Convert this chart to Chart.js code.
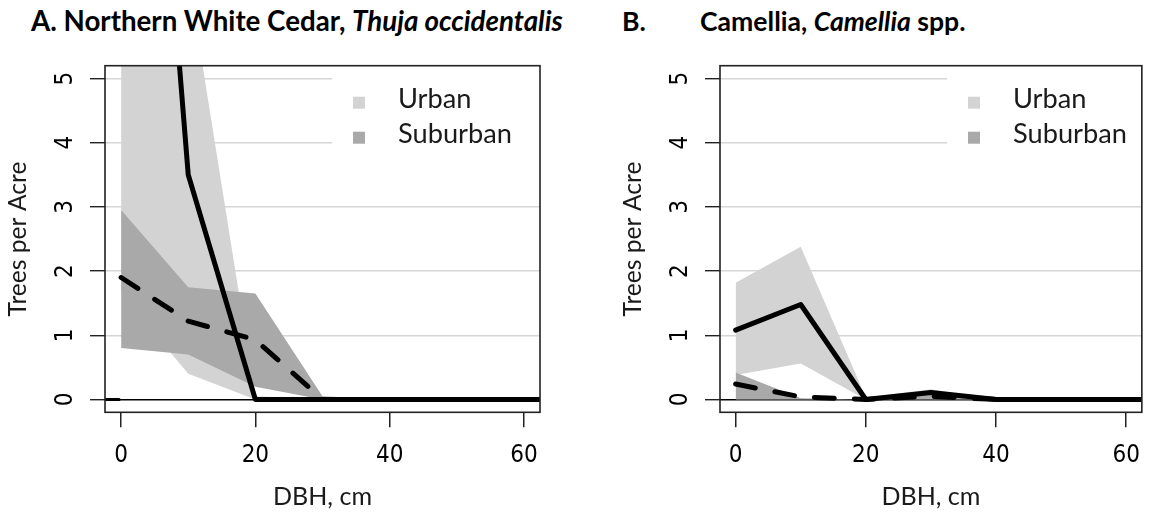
<!DOCTYPE html>
<html>
<head>
<meta charset="utf-8">
<title>Trees per acre by DBH class</title>
<script src="https://cdn.jsdelivr.net/npm/chart.js@4.4.1/dist/chart.umd.min.js"></script>
<style>
  html, body { margin: 0; padding: 0; background: #fff; }
  body { width: 1154px; height: 516px; position: relative; overflow: hidden; }
  .panel { position: absolute; top: 0; height: 516px; }
  #boxA { left: 0; width: 577px; }
  #boxB { left: 615px; width: 539px; }
  .title { position: absolute; white-space: nowrap; font-family: Lato, 'Open Sans', sans-serif;
           font-weight: bold; color: #000; line-height: 1; }
</style>
</head>
<body>
<div class="title" id="titleA">A. Northern White Cedar, <i>Thuja occidentalis</i></div>
<div class="title" id="titleBletter">B.</div>
<div class="title" id="titleB">Camellia, <i>Camellia</i> spp.</div>
<div class="panel" id="boxA"><canvas id="chartA"></canvas></div>
<div class="panel" id="boxB"><canvas id="chartB"></canvas></div>
<script>
// DBH class (cm) and axis ticks
const dbh = [0, 10, 20, 30, 40, 50, 60, 70];
const xTicks = [0, 20, 40, 60];
const yTicks = [0, 1, 2, 3, 4, 5];
const legendLabels = ['Urban', 'Suburban'];

// A. Northern White Cedar
const cedarUrbanMean = [16.5, 3.5, 0, 0, 0, 0, 0, 0];
const cedarUrbanHigh = [30, 6.6, 0.05, 0, 0, 0, 0, 0];
const cedarUrbanLow  = [1.65, 0.4, 0, 0, 0, 0, 0, 0];
const cedarSubMean   = [1.9, 1.22, 0.93, 0, 0, 0, 0, 0];
const cedarSubHigh   = [2.95, 1.75, 1.65, 0.05, 0, 0, 0, 0];
const cedarSubLow    = [0.8, 0.7, 0.2, 0, 0, 0, 0, 0];
const cedarStubX = [-5, -0.3];
const cedarStubY = [0, 0];

// B. Camellia
const camelliaUrbanMean = [1.08, 1.48, 0, 0.11, 0, 0, 0, 0];
const camelliaUrbanHigh = [1.82, 2.38, 0.03, 0.16, 0, 0, 0, 0];
const camelliaUrbanLow  = [0.38, 0.56, 0, 0.04, 0, 0, 0, 0];
const camelliaSubMean   = [0.24, 0.04, 0, 0.05, 0, 0, 0, 0];
const camelliaSubHigh   = [0.42, 0.02, 0, 0.08, 0, 0, 0, 0];
const camelliaSubLow    = [0, 0, 0, 0, 0, 0, 0, 0];

const LIGHT = '#d3d3d3';
const DARK = '#a9a9a9';
const legendColors = [LIGHT, DARK];
const textFont = "Lato, 'Open Sans', sans-serif";
const tickFont = "'Liberation Sans Narrow', 'DejaVu Sans Condensed', 'Liberation Sans', sans-serif";

// font size that makes a text span a given width
function fitSize(text, weight, target) {
  const c = document.createElement('canvas').getContext('2d');
  c.font = weight + ' 100px ' + textFont;
  return 100 * target / c.measureText(text).width;
}
function fitTitle(id, left, target, size) {
  const el = document.getElementById(id);
  if (!size) {
    el.style.fontSize = '100px';
    size = 100 * target / el.getBoundingClientRect().width;
  }
  el.style.fontSize = size + 'px';
  el.style.left = left + 'px';
  el.style.top = (22 - 0.527 * size) + 'px';
  return size;
}
const tSize = fitTitle('titleA', 31, 532);
fitTitle('titleB', 700, 0, tSize * 0.96);
fitTitle('titleBletter', 622, 0, tSize * 0.96);

const yTitleSize = fitSize('Trees per Acre', 'normal', 155);
const xTitleSize = fitSize('DBH, cm', 'normal', 99);
const legendSize = fitSize('Suburban', 'normal', 114);

const decor = {
  id: 'decor',
  beforeDatasetsDraw(chart) {
    const {ctx, chartArea: a} = chart;
    ctx.save();
    ctx.fillStyle = '#fff';
    ctx.fillRect(a.left + 227, a.top, a.right - a.left - 227, 110);
    ctx.font = legendSize + 'px ' + textFont;
    ctx.textBaseline = 'alphabetic';
    legendLabels.forEach((lab, i) => {
      ctx.fillStyle = legendColors[i];
      ctx.fillRect(a.left + 248, a.top + 31 + i * 35, 12, 12);
      ctx.fillStyle = '#1a1a1a';
      ctx.fillText(lab, a.left + 293, a.top + 42.6 + i * 35);
    });
    ctx.restore();
  },
  afterDatasetsDraw(chart) {
    const {ctx, chartArea: a} = chart;
    ctx.save();
    ctx.strokeStyle = '#222';
    ctx.lineWidth = 1.6;
    ctx.strokeRect(a.left, a.top, a.right - a.left, a.bottom - a.top);
    ctx.restore();
  }
};

function makeChart(id, s, padRight) {
  const pts = (xs, ys) => xs.map((x, i) => ({x: x, y: ys[i]}));
  const band = (ys, color, fillTo, order) => ({
    data: pts(dbh, ys), borderWidth: 0, borderColor: 'rgba(0,0,0,0)', pointRadius: 0,
    backgroundColor: color, fill: fillTo, order: order
  });
  const line = (xs, ys, dash, w) => ({
    data: pts(xs, ys), borderColor: '#000', borderWidth: w, pointRadius: 0, fill: false,
    borderDash: dash, borderCapStyle: 'round', borderJoinStyle: 'round', order: 1
  });
  const datasets = [
    band(s.urbanHigh, LIGHT, 1, 3),
    band(s.urbanLow, LIGHT, false, 3),
    band(s.subHigh, DARK, 3, 2),
    band(s.subLow, DARK, false, 2),
    line(dbh, s.urbanMean, [], 5),
    line(dbh, s.subMean, [20, 20], 5)
  ];
  if (s.stubX) datasets.push(line(s.stubX, s.stubY, [], 3));

  return new Chart(document.getElementById(id), {
    type: 'line',
    data: {datasets: datasets},
    options: {
      responsive: true,
      maintainAspectRatio: false,
      animation: false,
      events: [],
      layout: {padding: {top: 65.7, right: padRight, bottom: 0, left: 0}},
      plugins: {legend: {display: false}, tooltip: {enabled: false}},
      scales: {
        x: {
          type: 'linear', min: -2.4, max: 62.4,
          afterBuildTicks: ax => { ax.ticks = xTicks.map(v => ({value: v})); },
          afterFit: ax => { ax.height = 516 - 412.3; },
          border: {display: false},
          grid: {drawOnChartArea: false, tickColor: '#222', tickLength: 15, lineWidth: 1.5},
          ticks: {padding: 14, maxRotation: 0, color: '#000', font: {family: tickFont, size: 24}},
          title: {display: true, text: 'DBH, cm', color: '#1a1a1a',
                  font: {family: textFont, size: xTitleSize},
                  padding: {top: 0, bottom: 19 - xTitleSize * 0.6}}
        },
        y: {
          type: 'linear', min: -0.2, max: 5.2,
          afterBuildTicks: ax => { ax.ticks = yTicks.map(v => ({value: v})); },
          afterFit: ax => { ax.width = 105; },
          border: {display: false},
          grid: {
            color: c => (c.tick && c.tick.value === 0 ? '#000' : '#d6d6d6'),
            lineWidth: 1.4, tickColor: '#222', tickLength: 15
          },
          ticks: {minRotation: 90, maxRotation: 90, crossAlign: 'center', padding: 17,
                  color: '#000', font: {family: tickFont, size: 24}},
          title: {display: true, text: 'Trees per Acre', color: '#1a1a1a',
                  font: {family: textFont, size: yTitleSize},
                  padding: {top: 18 - yTitleSize * 0.6, bottom: 0}}
        }
      }
    },
    plugins: [decor]
  });
}

makeChart('chartA', {
  urbanMean: cedarUrbanMean, urbanHigh: cedarUrbanHigh, urbanLow: cedarUrbanLow,
  subMean: cedarSubMean, subHigh: cedarSubHigh, subLow: cedarSubLow,
  stubX: cedarStubX, stubY: cedarStubY
}, 37);
makeChart('chartB', {
  urbanMean: camelliaUrbanMean, urbanHigh: camelliaUrbanHigh, urbanLow: camelliaUrbanLow,
  subMean: camelliaSubMean, subHigh: camelliaSubHigh, subLow: camelliaSubLow
}, 1.3);
</script>
</body>
</html>
